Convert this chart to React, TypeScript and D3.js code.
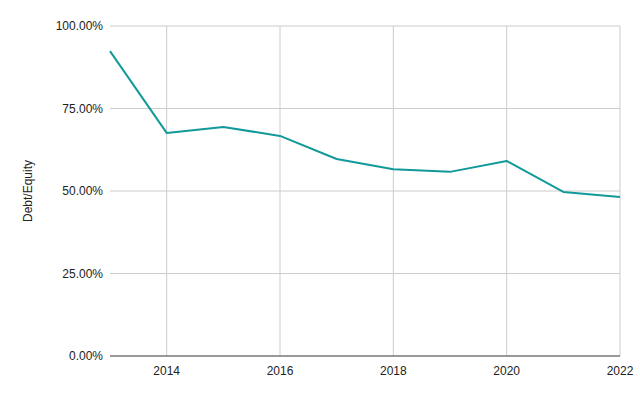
import * as d3 from "d3";

const years = [2013, 2014, 2015, 2016, 2017, 2018, 2019, 2020, 2021, 2022];
const debtEquity = [0.924, 0.676, 0.694, 0.667, 0.597, 0.566, 0.558, 0.591, 0.497, 0.482];
const yTicks = [0, 0.25, 0.5, 0.75, 1];
const xTicks = [2014, 2016, 2018, 2020, 2022];

export default function App() {
  const width = 640;
  const height = 396;
  const left = 110;
  const right = 620;
  const top = 26;
  const bottom = 356;

  const x = d3.scaleLinear().domain([2013, 2022]).range([left, right]);
  const y = d3.scaleLinear().domain([0, 1]).range([bottom, top]);

  const line = d3
    .line<number>()
    .x((_, i) => x(years[i]))
    .y((d) => y(d));

  const fmt = (v: number) => (v * 100).toFixed(2) + "%";

  return (
    <svg
      width={width}
      height={height}
      style={{ position: "absolute", left: 0, top: 0, background: "#fff" }}
      fontFamily="'Liberation Sans', Arial, sans-serif"
    >
      {yTicks
        .filter((t) => t > 0)
        .map((t) => (
          <line key={t} x1={left} x2={right} y1={y(t)} y2={y(t)} stroke="#cccccc" strokeWidth={1} />
        ))}
      {xTicks.map((t) => (
        <line key={t} x1={x(t)} x2={x(t)} y1={top} y2={bottom} stroke="#cccccc" strokeWidth={1} />
      ))}
      <line x1={left} x2={right} y1={bottom} y2={bottom} stroke="#777777" strokeWidth={1.5} />
      {yTicks.map((t) => (
        <text key={t} x={103} y={y(t)} dy="0.35em" textAnchor="end" fontSize={12} fill="#222">
          {fmt(t)}
        </text>
      ))}
      {xTicks.map((t) => (
        <text key={t} x={x(t)} y={bottom + 15} dy="0.35em" textAnchor="middle" fontSize={12} fill="#222">
          {t}
        </text>
      ))}
      <text
        transform={`translate(28, ${(top + bottom) / 2}) rotate(-90)`}
        textAnchor="middle"
        dy="0.35em"
        fontSize={12}
        fill="#222"
      >
        Debt/Equity
      </text>
      <path d={line(debtEquity) ?? ""} fill="none" stroke="#12999a" strokeWidth={2} strokeLinejoin="round" />
    </svg>
  );
}
